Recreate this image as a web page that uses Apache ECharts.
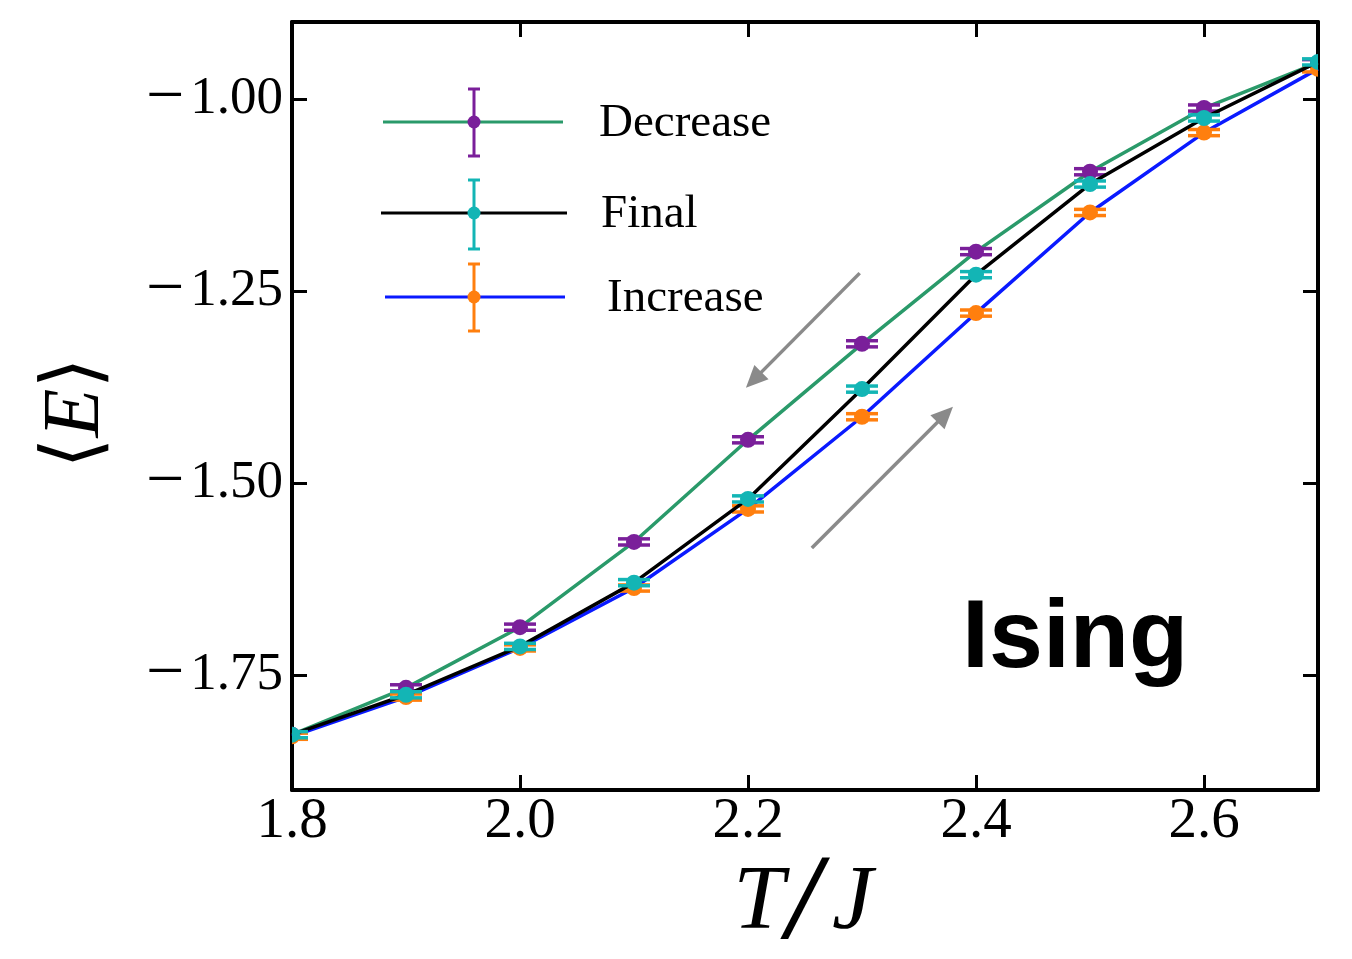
<!DOCTYPE html>
<html>
<head>
<meta charset="utf-8">
<script src="https://cdn.jsdelivr.net/npm/echarts@6/dist/echarts.min.js"></script>
<style>
html,body{margin:0;padding:0;background:#fff;}
#chart{width:1352px;height:959px;}
</style>
</head>
<body>
<div id="chart"></div>
<script>
// ---- data ----
const temperatures = [1.8, 1.9, 2.0, 2.1, 2.2, 2.3, 2.4, 2.5, 2.6, 2.7];
const decreaseE = [-1.828, -1.767, -1.688, -1.577, -1.444, -1.319, -1.199, -1.095, -1.012, -0.953];
const finalE    = [-1.828, -1.776, -1.713, -1.630, -1.521, -1.378, -1.229, -1.111, -1.025, -0.952];
const increaseE = [-1.830, -1.779, -1.715, -1.637, -1.534, -1.414, -1.279, -1.148, -1.044, -0.961];
const decreaseErr = [0.004, 0.004, 0.004, 0.004, 0.004, 0.004, 0.004, 0.004, 0.004, 0.004];
const finalErr    = [0.004, 0.004, 0.004, 0.004, 0.004, 0.004, 0.004, 0.004, 0.004, 0.004];
const increaseErr = [0.004, 0.004, 0.004, 0.004, 0.004, 0.004, 0.004, 0.004, 0.004, 0.004];
const xTicks = [1.8, 2.0, 2.2, 2.4, 2.6];
const yTicks = [-1.75, -1.5, -1.25, -1.0];
const seriesNames = ['Decrease', 'Final', 'Increase'];
// annotation arrows in data coordinates: [fromT, fromE, toT, toE]
const arrowDown = [2.298, -1.227, 2.205, -1.366];
const arrowUp   = [2.256, -1.585, 2.373, -1.411];

const C = {
  decLine: '#2a9a6a', decMark: '#7a1f9a',
  finLine: '#000000', finMark: '#13b5b5',
  incLine: '#0a1aff', incMark: '#ff7f0e',
  arrow: '#8a8a8a'
};

const chart = echarts.init(document.getElementById('chart'), null, {renderer: 'canvas'});

function lineData(vals) { return temperatures.map((t, i) => [t, vals[i]]); }
function errData(vals, errs) { return temperatures.map((t, i) => [t, vals[i], errs[i]]); }

function errRenderer(color) {
  return function (params, api) {
    const x = api.value(0), y = api.value(1), e = api.value(2);
    const p = api.coord([x, y]);
    const top = api.coord([x, y + e]);
    const bot = api.coord([x, y - e]);
    const hw = 16;
    const st = {stroke: color, lineWidth: 3.5};
    return {
      type: 'group',
      children: [
        {type: 'line', shape: {x1: p[0], y1: top[1] - 1, x2: p[0], y2: bot[1] + 1}, style: st},
        {type: 'line', shape: {x1: p[0] - hw, y1: top[1], x2: p[0] + hw, y2: top[1]}, style: st},
        {type: 'line', shape: {x1: p[0] - hw, y1: bot[1], x2: p[0] + hw, y2: bot[1]}, style: st},
        {type: 'circle', shape: {cx: p[0], cy: p[1], r: 8}, style: {fill: color}}
      ]
    };
  };
}

const serif = 'Liberation Serif, Times New Roman, DejaVu Serif, serif';

const axisLineStyle = {color: '#000', width: 4};
const tickStyle = {color: '#000', width: 3};

function makeX(pos, showLabels) {
  return {
    type: 'value', position: pos, min: 1.8, max: 2.7,
    axisLine: {show: true, onZero: false, lineStyle: axisLineStyle},
    axisTick: {show: true, inside: true, length: 15, lineStyle: tickStyle, customValues: xTicks},
    axisLabel: {show: showLabels, customValues: xTicks, formatter: v => v.toFixed(1),
      fontFamily: serif, fontSize: 57, color: '#000', margin: 4},
    splitLine: {show: false}
  };
}
function makeY(pos, showLabels) {
  return {
    type: 'value', position: pos, min: -1.9, max: -0.9,
    axisLine: {show: true, onZero: false, lineStyle: axisLineStyle},
    axisTick: {show: true, inside: true, length: 15, lineStyle: tickStyle, customValues: yTicks},
    axisLabel: {show: showLabels, customValues: yTicks,
      formatter: v => (v < 0 ? '{m|\u2212}' : '') + Math.abs(v).toFixed(2),
      rich: {m: {fontFamily: serif, fontSize: 68, color: '#000', padding: [0, 6, 0, 0]}},
      fontFamily: serif, fontSize: 53, color: '#000', margin: 9},
    splitLine: {show: false}
  };
}

function lineSeries(name, vals, color, z) {
  return {
    name: name, type: 'line', data: lineData(vals), showSymbol: false, symbol: 'none',
    lineStyle: {color: color, width: 3.5}, z: z, animation: false, clip: true
  };
}
function errSeries(name, vals, errs, color, z) {
  return {
    name: name + ' err', type: 'custom', data: errData(vals, errs),
    renderItem: errRenderer(color), encode: {x: 0, y: 1}, z: z, clip: true, animation: false
  };
}

const legendItems = [
  {name: seriesNames[0], line: C.decLine, mark: C.decMark, y: 122, x1: 383, x2: 563, yTop: 89, yBot: 156, tx: 599},
  {name: seriesNames[1], line: C.finLine, mark: C.finMark, y: 213, x1: 381, x2: 567, yTop: 180, yBot: 249, tx: 601},
  {name: seriesNames[2], line: C.incLine, mark: C.incMark, y: 297, x1: 385, x2: 565, yTop: 264, yBot: 331, tx: 607}
];
const legendGraphics = [];
legendItems.forEach(it => {
  const cx = 474;
  legendGraphics.push(
    {type: 'line', shape: {x1: it.x1, y1: it.y, x2: it.x2, y2: it.y}, style: {stroke: it.line, lineWidth: 3}, z: 50},
    {type: 'line', shape: {x1: cx, y1: it.yTop, x2: cx, y2: it.yBot}, style: {stroke: it.mark, lineWidth: 3}, z: 51},
    {type: 'line', shape: {x1: cx - 6, y1: it.yTop, x2: cx + 6, y2: it.yTop}, style: {stroke: it.mark, lineWidth: 3}, z: 51},
    {type: 'line', shape: {x1: cx - 6, y1: it.yBot, x2: cx + 6, y2: it.yBot}, style: {stroke: it.mark, lineWidth: 3}, z: 51},
    {type: 'circle', shape: {cx: cx, cy: it.y, r: 6.5}, style: {fill: it.mark}, z: 52},
    {type: 'text', x: it.tx, y: it.y + 2, style: {text: it.name, fontFamily: serif, fontSize: 47, fill: '#000',
      verticalAlign: 'middle', align: 'left'}, z: 52}
  );
});

const option = {
  backgroundColor: '#fff',
  animation: false,
  grid: {left: 292, right: 34, top: 22, bottom: 169, containLabel: false},
  xAxis: [makeX('bottom', true), makeX('top', false)],
  yAxis: [makeY('left', true), makeY('right', false)],
  series: [
    Object.assign(lineSeries(seriesNames[0], decreaseE, C.decLine, 2), {
      markLine: {
        silent: true, symbol: ['none', 'triangle'], symbolSize: [20, 22], animation: false,
        label: {show: false},
        lineStyle: {color: C.arrow, width: 3.5, type: 'solid'},
        itemStyle: {color: C.arrow},
        data: [
          [{coord: [arrowDown[0], arrowDown[1]]}, {coord: [arrowDown[2], arrowDown[3]]}],
          [{coord: [arrowUp[0], arrowUp[1]]}, {coord: [arrowUp[2], arrowUp[3]]}]
        ]
      }
    }),
    errSeries(seriesNames[0], decreaseE, decreaseErr, C.decMark, 3),
    lineSeries(seriesNames[2], increaseE, C.incLine, 4),
    errSeries(seriesNames[2], increaseE, increaseErr, C.incMark, 5),
    lineSeries(seriesNames[1], finalE, C.finLine, 6),
    errSeries(seriesNames[1], finalE, finalErr, C.finMark, 7)
  ],
  graphic: [
    ...legendGraphics,
    {type: 'text', x: 962, y: 640, style: {text: 'Ising', fontFamily: 'Liberation Sans, Arial, sans-serif',
      fontWeight: 'bold', fontSize: 97, fill: '#000', verticalAlign: 'middle', align: 'left'}, z: 60},
    {type: 'text', x: 803, y: 904, style: {text: 'T{s|/}J', fontFamily: serif, fontStyle: 'italic',
      fontSize: 92, fill: '#000', align: 'center', verticalAlign: 'middle',
      rich: {s: {fontFamily: 'DejaVu Serif, serif', fontStyle: 'italic', fontSize: 100, fill: '#000', padding: [0, 10, 0, 4]}}}, z: 60},
    {type: 'text', x: 77, y: 413, rotation: Math.PI / 2, style: {text: '\u27E8{e|E}\u27E9',
      fontFamily: 'DejaVu Serif, DejaVu Sans, serif', fontSize: 80, fill: '#000', align: 'center', verticalAlign: 'middle',
      rich: {e: {fontFamily: serif, fontStyle: 'italic', fontSize: 80, fill: '#000'}}}, z: 60}
  ]
};
chart.setOption(option);
</script>
</body>
</html>
